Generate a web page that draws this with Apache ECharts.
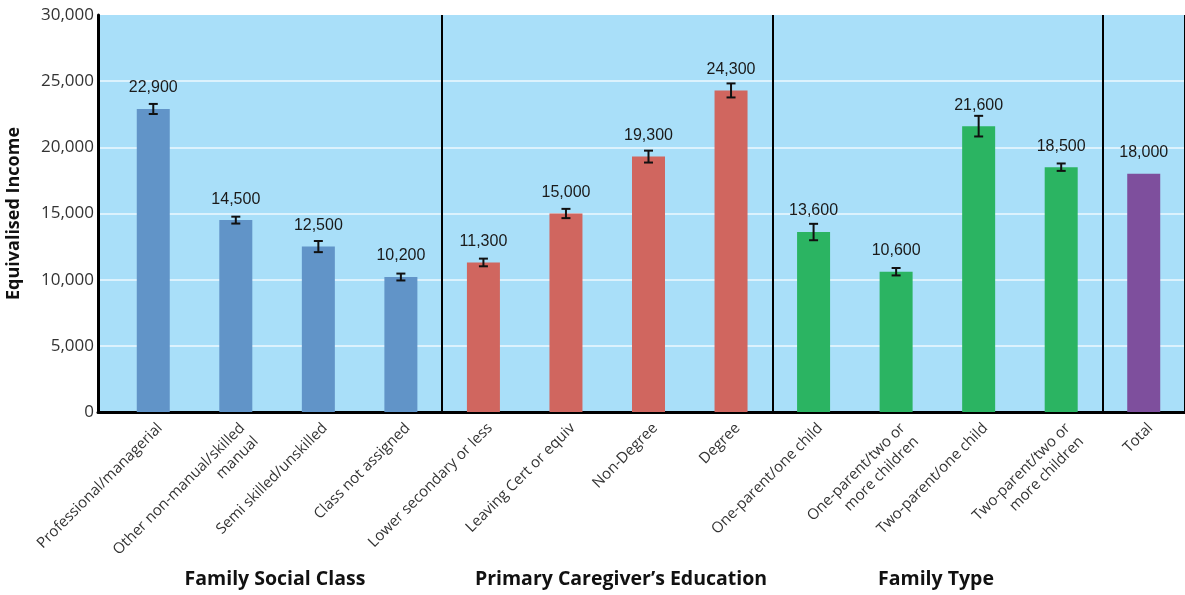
<!DOCTYPE html>
<html>
<head>
<meta charset="utf-8">
<script src="https://cdn.jsdelivr.net/npm/echarts@6/dist/echarts.min.js"></script>
<style>
html,body{margin:0;padding:0;background:#fff;}
#chart{width:1185px;height:595px;}
</style>
</head>
<body>
<div id="chart"></div>
<script>
const categories = [
  'Professional/managerial',
  'Other non-manual/skilled\nmanual',
  'Semi skilled/unskilled',
  'Class not assigned',
  'Lower secondary or less',
  'Leaving Cert or equiv',
  'Non-Degree',
  'Degree',
  'One-parent/one child',
  'One-parent/two or\nmore children',
  'Two-parent/one child',
  'Two-parent/two or\nmore children',
  'Total'
];
const values = [22900, 14500, 12500, 10200, 11300, 15000, 19300, 24300, 13600, 10600, 21600, 18500, 18000];
const errors = [380, 260, 420, 260, 290, 350, 450, 530, 620, 280, 780, 280, null];
const groupOf = [0, 0, 0, 0, 1, 1, 1, 1, 2, 2, 2, 2, 3];
const groupColors = ['#6194C8', '#D0665F', '#2BB462', '#7E4F9D'];
const groupTitles = ['Family Social Class', 'Primary Caregiver\u2019s Education', 'Family Type'];
const yTicks = [0, 5000, 10000, 15000, 20000, 25000, 30000];

const chart = echarts.init(document.getElementById('chart'), null, {renderer: 'canvas'});

const fmt = v => Math.round(v).toLocaleString('en-US');

const option = {
  backgroundColor: '#ffffff',
  animation: false,
  grid: [
    {left: 98, right: 0, top: 15, bottom: 183, show: true, backgroundColor: '#A9DFF9', borderWidth: 0, containLabel: false, outerBoundsMode: 'none'},
    {left: 112, right: 0, top: 15, bottom: 183, containLabel: false, outerBoundsMode: 'none'}
  ],
  xAxis: [
    {
      type: 'value', gridIndex: 0, min: 0, max: 1,
      axisLine: {show: true, lineStyle: {color: '#000', width: 3}},
      axisTick: {show: false}, axisLabel: {show: false}, splitLine: {show: false}
    },
    {
      type: 'category', gridIndex: 1, data: categories,
      axisLine: {show: false}, axisTick: {show: false},
      axisLabel: {
        interval: 0, rotate: 45, margin: 7, verticalAlign: 'top',
        fontFamily: 'Open Sans', fontSize: 15, color: '#333', lineHeight: 19
      },
      splitLine: {
        show: true,
        interval: (idx) => idx === 4 || idx === 8 || idx === 12,
        lineStyle: {color: '#000', width: 2}
      }
    }
  ],
  yAxis: [
    {
      type: 'value', gridIndex: 0, min: yTicks[0], max: yTicks[yTicks.length - 1], interval: 5000,
      name: 'Equivalised Income', nameLocation: 'middle', nameGap: 75, nameRotate: 90,
      nameTextStyle: {fontFamily: 'Open Sans', fontWeight: 'bold', fontSize: 18, color: '#111'},
      axisLine: {show: true, lineStyle: {color: '#000', width: 3}},
      axisTick: {show: false},
      axisLabel: {fontFamily: 'Open Sans', fontSize: 17, color: '#333', margin: 4, formatter: v => fmt(v)},
      splitLine: {show: true, showMinLine: false, showMaxLine: false, lineStyle: {color: '#DCF2FD', width: 2}}
    },
    {
      type: 'value', gridIndex: 1, min: yTicks[0], max: yTicks[yTicks.length - 1], interval: 5000,
      show: false
    }
  ],
  series: [
    {
      type: 'bar', xAxisIndex: 1, yAxisIndex: 1, barWidth: 33,
      data: values.map((v, i) => ({value: v, itemStyle: {color: groupColors[groupOf[i]]}})),
      label: {
        show: true, position: 'top', distance: 13,
        fontFamily: 'Liberation Sans', fontSize: 16, color: '#1a1a1a',
        formatter: p => fmt(p.value)
      },
      z: 2
    },
    {
      type: 'custom', xAxisIndex: 1, yAxisIndex: 1, z: 4,
      data: categories.map((c, i) => [i, values[i], errors[i]]),
      encode: {x: 0, y: 1},
      renderItem: (params, api) => {
        const i = api.value(0), v = api.value(1), e = api.value(2);
        if (!e || isNaN(e)) return null;
        const top = api.coord([i, v + e]);
        const bot = api.coord([i, v - e]);
        const hw = 4.5;
        const st = {stroke: '#111', lineWidth: 2};
        return {
          type: 'group',
          children: [
            {type: 'line', shape: {x1: top[0], y1: top[1], x2: bot[0], y2: bot[1]}, style: st},
            {type: 'line', shape: {x1: top[0] - hw, y1: top[1], x2: top[0] + hw, y2: top[1]}, style: st},
            {type: 'line', shape: {x1: bot[0] - hw, y1: bot[1], x2: bot[0] + hw, y2: bot[1]}, style: st}
          ]
        };
      }
    }
  ],
  graphic: [
    {type: 'text', x: 275, y: 579, style: {text: groupTitles[0], textAlign: 'center', textVerticalAlign: 'middle', font: 'bold 19.5px "Open Sans"', fill: '#111'}},
    {type: 'text', x: 621, y: 579, style: {text: groupTitles[1], textAlign: 'center', textVerticalAlign: 'middle', font: 'bold 19.5px "Open Sans"', fill: '#111'}},
    {type: 'text', x: 936, y: 579, style: {text: groupTitles[2], textAlign: 'center', textVerticalAlign: 'middle', font: 'bold 19.5px "Open Sans"', fill: '#111'}}
  ]
};

chart.setOption(option);
</script>
</body>
</html>
